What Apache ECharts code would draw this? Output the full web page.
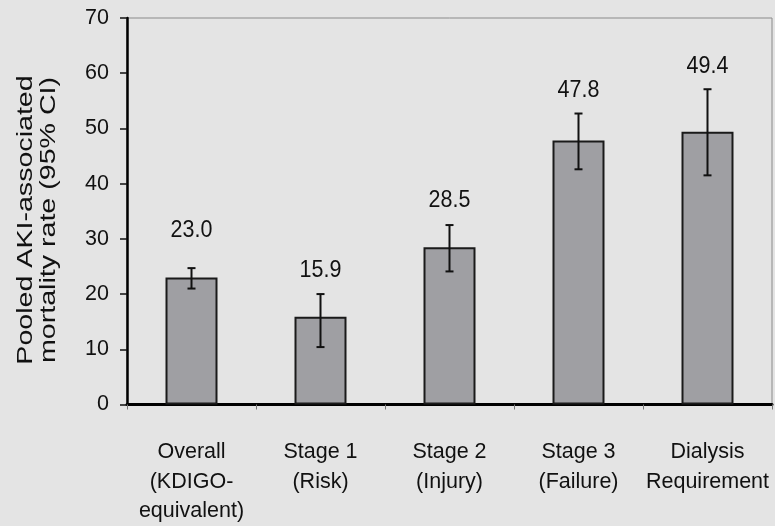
<!DOCTYPE html>
<html>
<head>
<meta charset="utf-8">
<script src="https://cdn.jsdelivr.net/npm/echarts@6/dist/echarts.min.js"></script>
<style>
  html, body { margin: 0; padding: 0; background: #e4e4e4; }
  #chart { width: 775px; height: 526px; }
</style>
</head>
<body>
<div id="chart"></div>
<script>
// Pooled AKI-associated mortality by KDIGO stage
const categories = [
  'Overall\n(KDIGO-\nequivalent)',
  'Stage 1\n(Risk)',
  'Stage 2\n(Injury)',
  'Stage 3\n(Failure)',
  'Dialysis\nRequirement'
];
const mortalityRate = [23.0, 15.9, 28.5, 47.8, 49.4];
const ciLower = [21.0, 10.4, 24.1, 42.6, 41.5];
const ciUpper = [24.7, 20.0, 32.5, 52.7, 57.1];
const yTicks = { min: 0, max: 70, interval: 10 };

const FONT = "'Liberation Sans', Arial, sans-serif";
const FS = 21.5;

const chart = echarts.init(document.getElementById('chart'), null, { renderer: 'canvas' });

const errorData = mortalityRate.map((v, i) => [i, ciLower[i], ciUpper[i], v]);

function renderError(params, api) {
  const i = api.value(0);
  const lo = api.coord([i, api.value(1)]);
  const hi = api.coord([i, api.value(2)]);
  const top = api.coord([i, api.value(3)]);
  const cap = 4;
  const lineStyle = { stroke: '#111', lineWidth: 2 };
  // value label sits above the bar, lifted further when the CI whisker reaches higher
  const labelY = Math.min(top[1] - 47, hi[1] - 23);
  return {
    type: 'group',
    children: [
      { type: 'line', shape: { x1: hi[0], y1: hi[1], x2: lo[0], y2: lo[1] }, style: lineStyle },
      { type: 'line', shape: { x1: hi[0] - cap, y1: hi[1], x2: hi[0] + cap, y2: hi[1] }, style: lineStyle },
      { type: 'line', shape: { x1: lo[0] - cap, y1: lo[1], x2: lo[0] + cap, y2: lo[1] }, style: lineStyle },
      {
        type: 'text',
        x: top[0], y: labelY,
        scaleY: 1.15,
        style: {
          text: api.value(3).toFixed(1),
          fill: '#111',
          font: FS + 'px ' + FONT,
          textAlign: 'center',
          textVerticalAlign: 'middle'
        }
      }
    ]
  };
}

chart.setOption({
  backgroundColor: '#e4e4e4',
  animation: false,
  grid: {
    left: 127, right: 3, top: 18, bottom: 119,
    show: true, borderColor: '#8a8a8a', borderWidth: 1, backgroundColor: 'transparent'
  },
  xAxis: {
    type: 'category',
    data: categories,
    axisLine: { lineStyle: { color: '#000', width: 3 } },
    axisTick: { show: true, length: 5, lineStyle: { color: '#777', width: 1 } },
    axisLabel: {
      margin: 33,
      color: '#111',
      fontSize: FS,
      fontFamily: FONT,
      lineHeight: 29.5,
      align: 'center',
      interval: 0
    },
    splitLine: { show: false }
  },
  yAxis: {
    type: 'value',
    min: yTicks.min, max: yTicks.max, interval: yTicks.interval,
    axisLine: { show: true, lineStyle: { color: '#000', width: 2.5 } },
    axisTick: { show: true, length: 7, lineStyle: { color: '#111', width: 1.5 } },
    axisLabel: { margin: 18, color: '#111', fontSize: FS, fontFamily: FONT },
    splitLine: { show: false }
  },
  graphic: [{
    type: 'text',
    x: 37, y: 220,
    rotation: Math.PI / 2,
    scaleX: 1.3,
    style: {
      text: 'Pooled AKI-associated\nmortality rate (95% CI)',
      font: '22px ' + FONT,
      fill: '#111',
      textAlign: 'center',
      textVerticalAlign: 'middle',
      lineHeight: 23
    }
  }],
  series: [
    {
      type: 'bar',
      data: mortalityRate,
      barWidth: 52,
      itemStyle: { color: '#9f9fa3', borderColor: '#1a1a1a', borderWidth: 2 },
      z: 2
    },
    {
      type: 'custom',
      data: errorData,
      renderItem: renderError,
      encode: { x: 0, y: [1, 2] },
      clip: false,
      z: 5
    }
  ]
});
</script>
</body>
</html>
